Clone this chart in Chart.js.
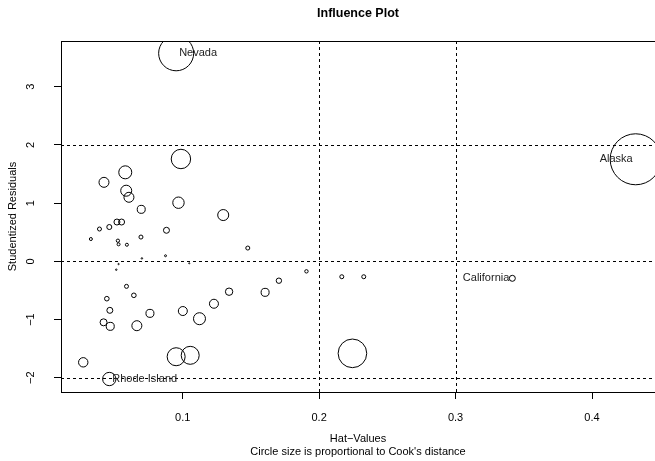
<!DOCTYPE html>
<html>
<head>
<meta charset="utf-8">
<script src="https://cdn.jsdelivr.net/npm/chart.js@4/dist/chart.umd.min.js"></script>
<style>
  html, body { margin: 0; padding: 0; background: #fff; overflow: hidden; }
  #wrap { width: 655px; height: 461px; overflow: hidden; position: relative; }
  canvas { display: block; }
</style>
</head>
<body>
<div id="wrap"><canvas id="infl" width="660" height="461"></canvas></div>
<script>
// Influence plot: hat-values vs studentized residuals, circle area ~ Cook's D
const hatValues = [
  0.0952, 0.432, 0.3416, 0.0462, 0.0987, 0.0579, 0.0423, 0.0586, 0.0606, 0.0969,
  0.0696, 0.0518, 0.0552, 0.0462, 0.0390, 0.0881, 0.0327, 0.0525, 0.0530, 0.0591,
  0.0694, 0.1297, 0.1477, 0.0701, 0.0874, 0.0530, 0.0513, 0.1048, 0.0588, 0.0642,
  0.0444, 0.0466, 0.0760, 0.1001, 0.0420, 0.0469, 0.0664, 0.0271, 0.0952, 0.1055,
  0.1123, 0.1229, 0.1340, 0.1604, 0.1705, 0.1907, 0.2166, 0.2327, 0.2244
];
const studRes = [
  3.574, 1.753, -0.292, -2.022, 1.758, 1.529, 1.357, 1.213, 1.100, 1.007,
  0.893, 0.675, 0.675, 0.589, 0.555, 0.533, 0.383, 0.354, 0.292, 0.285,
  0.417, 0.795, 0.228, 0.050, 0.096, -0.047, -0.144, -0.034, -0.430, -0.584,
  -0.642, -0.842, -0.894, -0.854, -1.048, -1.117, -1.106, -1.735, -1.639, -1.615,
  -0.986, -0.729, -0.522, -0.533, -0.333, -0.172, -0.265, -0.265, -1.581
];
const cooksD = [
  0.283, 0.600, 0.0083, 0.041, 0.087, 0.039, 0.023, 0.028, 0.023, 0.030,
  0.0148, 0.0083, 0.0083, 0.0058, 0.0037, 0.0083, 0.0021, 0.0025, 0.0021, 0.0021,
  0.0037, 0.028, 0.0037, 0.0005, 0.0009, 0.0004, 0.0005, 0.0003, 0.0037, 0.0049,
  0.0049, 0.0083, 0.0148, 0.0187, 0.0113, 0.0148, 0.0231, 0.0204, 0.0747, 0.0747,
  0.0332, 0.0187, 0.0126, 0.0148, 0.0067, 0.0027, 0.0037, 0.0037, 0.189
];
const pointNames = ['Nevada', 'Alaska', 'California', 'Rhode Island'];
const xTicks = [0.1, 0.2, 0.3, 0.4];
const yTicks = [-2, -1, 0, 1, 2, 3];
const hatCutoffs = [0.2, 0.3];
const resCutoffs = [-2, 0, 2];

const FONT = '"Liberation Sans", Arial, Helvetica, sans-serif';
const maxCook = Math.max(...cooksD);
const pts = hatValues.map((h, i) => ({ x: h, y: studRes[i] }));

const refLines = {
  id: 'refLines',
  beforeDatasetsDraw(chart) {
    const { ctx, chartArea: a, scales: { x, y } } = chart;
    ctx.save();
    ctx.strokeStyle = '#000';
    ctx.lineWidth = 1;
    ctx.setLineDash([3, 3]);
    resCutoffs.forEach(v => {
      const py = Math.round(y.getPixelForValue(v)) + 0.5;
      ctx.beginPath(); ctx.moveTo(a.left, py); ctx.lineTo(a.right, py); ctx.stroke();
    });
    hatCutoffs.forEach(v => {
      const px = Math.round(x.getPixelForValue(v)) + 0.5;
      ctx.beginPath(); ctx.moveTo(px, a.top); ctx.lineTo(px, a.bottom); ctx.stroke();
    });
    ctx.restore();
  },
  afterDraw(chart) {
    const { ctx, chartArea: a, scales: { x, y } } = chart;
    ctx.save();
    // box
    ctx.strokeStyle = '#000';
    ctx.lineWidth = 1;
    ctx.strokeRect(Math.round(a.left) + 0.5, Math.round(a.top) + 0.5,
      Math.round(a.right - a.left), Math.round(a.bottom - a.top));
    // point labels
    ctx.fillStyle = '#222';
    ctx.font = '11px ' + FONT;
    ctx.textBaseline = 'middle';
    const mid = (x.min + x.max) / 2;
    pointNames.forEach((name, i) => {
      const px = x.getPixelForValue(hatValues[i]);
      const py = y.getPixelForValue(studRes[i]);
      if (hatValues[i] > mid) { ctx.textAlign = 'right'; ctx.fillText(name, px - 3, py); }
      else { ctx.textAlign = 'left'; ctx.fillText(name, px + 3, py); }
    });
    // titles
    const cx = (a.left + 655) / 2;
    ctx.fillStyle = '#000';
    ctx.textAlign = 'center';
    ctx.font = 'bold 12.5px ' + FONT;
    ctx.fillText('Influence Plot', cx, 14);
    ctx.font = '11px ' + FONT;
    ctx.fillText('Hat\u2212Values', cx, 439);
    ctx.fillText("Circle size is proportional to Cook's distance", cx, 452);
    ctx.translate(13, (a.top + a.bottom) / 2);
    ctx.rotate(-Math.PI / 2);
    ctx.fillText('Studentized Residuals', 0, 0);
    ctx.restore();
  }
};

const minus = v => (v < 0 ? '\u2212' + Math.abs(v) : String(v));

new Chart(document.getElementById('infl'), {
  type: 'scatter',
  data: {
    datasets: [{
      data: pts,
      pointStyle: 'circle',
      backgroundColor: 'rgba(0,0,0,0)',
      borderColor: '#000',
      borderWidth: 1,
      pointRadius: c => 25.5 * Math.sqrt(cooksD[c.dataIndex] / maxCook),
      pointHoverRadius: c => 25.5 * Math.sqrt(cooksD[c.dataIndex] / maxCook)
    }]
  },
  options: {
    responsive: false,
    devicePixelRatio: 1,
    animation: false,
    events: [],
    layout: { autoPadding: false, padding: { top: 41, left: 0, right: 2.5, bottom: 0 } },
    plugins: { legend: { display: false }, tooltip: { enabled: false } },
    scales: {
      x: {
        type: 'linear',
        min: 0.0108,
        max: 0.448,
        afterBuildTicks: s => { s.ticks = xTicks.map(v => ({ value: v })); },
        afterFit: s => { s.height = 69; },
        grid: { display: true, drawOnChartArea: false, drawTicks: true, tickLength: 7, color: '#000' },
        border: { display: true, color: '#000' },
        ticks: { color: '#000', font: { family: FONT, size: 11 }, padding: 12, maxRotation: 0, callback: v => String(v) }
      },
      y: {
        type: 'linear',
        min: -2.245,
        max: 3.785,
        afterBuildTicks: s => { s.ticks = yTicks.map(v => ({ value: v })); },
        afterFit: s => { s.width = 61; },
        grid: { display: true, drawOnChartArea: false, drawTicks: true, tickLength: 7, color: '#000' },
        border: { display: true, color: '#000' },
        ticks: { color: '#000', font: { family: FONT, size: 11 }, padding: 17, minRotation: 90, maxRotation: 90, crossAlign: 'center', callback: v => minus(v) }
      }
    }
  },
  plugins: [refLines]
});
</script>
</body>
</html>
